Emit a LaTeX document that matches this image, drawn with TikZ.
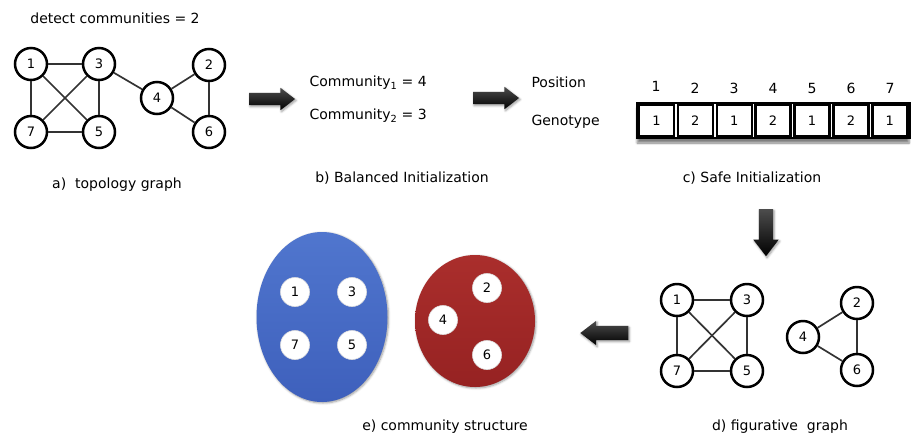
\documentclass[tikz,border=0pt]{standalone}
\usepackage{fontspec}
\setmainfont{DejaVu Sans}
\usetikzlibrary{shapes.arrows, shapes.geometric, positioning, shadows.blur}

\begin{document}
\begin{tikzpicture}[
    x=1pt, y=-1pt,
    font=\fontsize{14}{16}\selectfont,
    % --- Styles ---
    vertex/.style={
        circle, draw=black, line width=2.5pt, fill=white,
        minimum size=32pt, inner sep=0pt, font=\fontsize{13}{15}\selectfont
    },
    tie/.style={line width=1.7pt, draw=black!80},
    member/.style={
        circle, fill=white, draw=white!88!black, line width=0.6pt,
        minimum size=29pt, inner sep=0pt, font=\fontsize{13}{15}\selectfont
    },
    blockarrow/.style={
        single arrow, draw=none, top color=black!70, bottom color=black,
        single arrow head extend=5pt, single arrow tip angle=75,
        inner sep=0pt, inner ysep=6pt,
        blur shadow={shadow blur steps=5, shadow xshift=1pt, shadow yshift=-1.5pt}
    },
    gene/.style={
        rectangle, draw=black, line width=2.4pt, fill=white,
        minimum width=35pt, minimum height=31pt, inner sep=0pt,
        font=\fontsize{13}{15}\selectfont
    },
    caption/.style={anchor=center}
]

    % ── Colour Palette ──────────────────────────────────────────────────
    \definecolor{comm_blue_top}{RGB}{80, 118, 206}
    \definecolor{comm_blue_bot}{RGB}{62, 96, 188}
    \definecolor{comm_red_top}{RGB}{170, 46, 44}
    \definecolor{comm_red_bot}{RGB}{150, 34, 34}

    \useasboundingbox (0,0) rectangle (911,440);

    % ── a) topology graph ───────────────────────────────────────────────
    \node (detect) at (115,18) {detect communities = 2};

    \node (a1) [vertex] at (31,64)  {1};
    \node (a3) [vertex] at (99,64)  {3};
    \node (a7) [vertex] at (31,132) {7};
    \node (a5) [vertex] at (99,132) {5};
    \node (a4) [vertex] at (157,98) {4};
    \node (a2) [vertex] at (209,65) {2};
    \node (a6) [vertex] at (209,132) {6};

    \draw [tie] (a1) -- (a3);
    \draw [tie] (a1) -- (a7);
    \draw [tie] (a1) -- (a5);
    \draw [tie] (a3) -- (a7);
    \draw [tie] (a3) -- (a5);
    \draw [tie] (a7) -- (a5);
    \draw [tie] (a3) -- (a4);
    \draw [tie] (a4) -- (a2);
    \draw [tie] (a4) -- (a6);
    \draw [tie] (a2) -- (a6);

    \node (capA) [caption] at (117,185) {a)\ \ topology graph};

    % ── b) balanced initialization ──────────────────────────────────────
    \node (arr1) [blockarrow, minimum height=46pt] at (268,99) {};

    \node (comm1) [anchor=west] at (306,83)  {Community\textsubscript{1} = 4};
    \node (comm2) [anchor=west] at (306,116) {Community\textsubscript{2} = 3};
    \node (capB) [caption] at (402,178) {b) Balanced Initialization};

    \node (arr2) [blockarrow, minimum height=46pt] at (492,98) {};

    % ── c) safe initialization ──────────────────────────────────────────
    \node (position) [anchor=west] at (528,82)  {Position};
    \node (genotype) [anchor=west] at (528,122) {Genotype};

    \node (p1) at (656,86) {1};
    \node (p2) at (695,88) {2};
    \node (p3) at (734,88) {3};
    \node (p4) at (773,88) {4};
    \node (p5) at (812,88) {5};
    \node (p6) at (851,88) {6};
    \node (p7) at (890,88) {7};

    \node (chromosome) [draw=black, line width=2.8pt, fill=white,
          minimum width=272pt, minimum height=35pt,
          blur shadow={shadow blur steps=6, shadow xshift=0pt, shadow yshift=-5pt,
                       shadow opacity=50}]
          at (773.1,120.5) {};

    \node (g1) [gene] at (656.4,120.5) {1};
    \node (g2) [gene] at (695.3,120.5) {2};
    \node (g3) [gene] at (734.2,120.5) {1};
    \node (g4) [gene] at (773.1,120.5) {2};
    \node (g5) [gene] at (812.0,120.5) {1};
    \node (g6) [gene] at (850.9,120.5) {2};
    \node (g7) [gene] at (889.8,120.5) {1};

    \node (capC) [caption] at (752,178) {c) Safe Initialization};

    \node (arr3) [blockarrow, shape border rotate=270, minimum height=47pt,
                  inner xsep=7pt, inner ysep=0pt, single arrow head extend=5.5pt]
          at (766,228) {};

    % ── d) figurative graph ─────────────────────────────────────────────
    \node (d1) [vertex] at (677,300) {1};
    \node (d3) [vertex] at (747,300) {3};
    \node (d7) [vertex] at (677,371) {7};
    \node (d5) [vertex] at (747,371) {5};
    \node (d4) [vertex] at (803,337) {4};
    \node (d2) [vertex] at (857,303) {2};
    \node (d6) [vertex] at (857,370) {6};

    \draw [tie] (d1) -- (d3);
    \draw [tie] (d1) -- (d7);
    \draw [tie] (d1) -- (d5);
    \draw [tie] (d3) -- (d7);
    \draw [tie] (d3) -- (d5);
    \draw [tie] (d7) -- (d5);
    \draw [tie] (d4) -- (d2);
    \draw [tie] (d4) -- (d6);
    \draw [tie] (d2) -- (d6);

    \node (capD) [caption] at (780,427) {d) figurative\ \ graph};

    \node (arr4) [blockarrow, shape border rotate=180, minimum height=48pt,
                  inner ysep=7pt] at (609,333) {};

    % ── e) community structure ──────────────────────────────────────────
    \node (blue) [ellipse, minimum width=131pt, minimum height=170pt,
                  top color=comm_blue_top, bottom color=comm_blue_bot,
                  blur shadow={shadow blur steps=5, shadow xshift=1pt, shadow yshift=-1pt}]
          at (322,317) {};
    \node (red) [ellipse, minimum width=120pt, minimum height=132pt,
                 top color=comm_red_top, bottom color=comm_red_bot,
                 blur shadow={shadow blur steps=5, shadow xshift=1pt, shadow yshift=-1pt}]
          at (475,321) {};

    \node (e1) [member] at (295,292) {1};
    \node (e3) [member] at (352,292) {3};
    \node (e7) [member] at (295,345) {7};
    \node (e5) [member] at (352,345) {5};

    \node (e2) [member] at (487,288) {2};
    \node (e4) [member] at (443,320) {4};
    \node (e6) [member] at (487,355) {6};

    \node (capE) [caption] at (445,427) {e) community structure};

\end{tikzpicture}
\end{document}
